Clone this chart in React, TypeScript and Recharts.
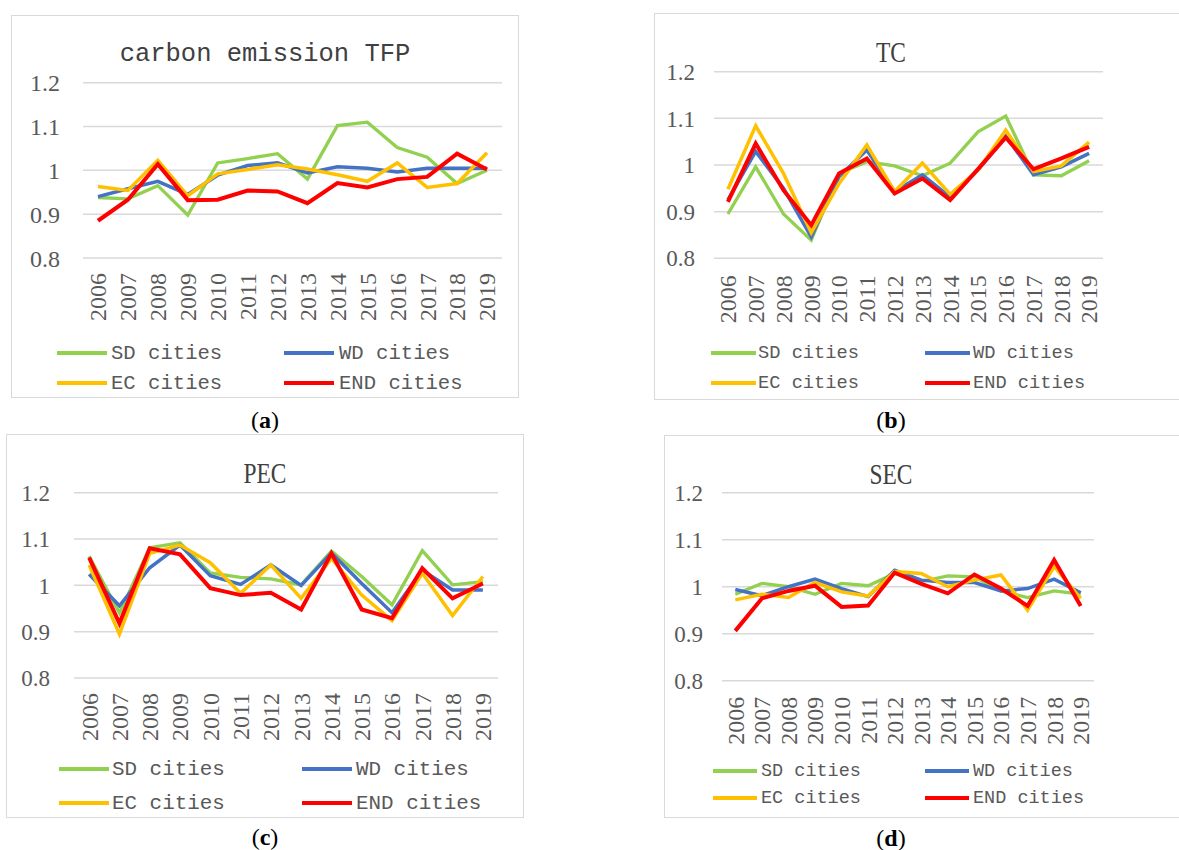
import React from 'react';
import { LineChart, Line, XAxis, YAxis, CartesianGrid } from 'recharts';

const YEARS = ['2006', '2007', '2008', '2009', '2010', '2011', '2012', '2013', '2014', '2015', '2016', '2017', '2018', '2019'];
const SERIES = ['SD cities', 'WD cities', 'EC cities', 'END cities'];
const Y_TICKS = [0.8, 0.9, 1.0, 1.1, 1.2];

// (a) carbon emission TFP
const TFP_SD = [0.938, 0.935, 0.965, 0.898, 1.017, 1.027, 1.038, 0.98, 1.102, 1.11, 1.052, 1.03, 0.97, 1.0];
const TFP_WD = [0.94, 0.958, 0.975, 0.945, 0.989, 1.011, 1.017, 0.994, 1.008, 1.005, 0.996, 1.005, 1.005, 1.005];
const TFP_EC = [0.963, 0.954, 1.023, 0.942, 0.992, 1.002, 1.013, 1.003, 0.99, 0.975, 1.017, 0.961, 0.97, 1.04];
const TFP_END = [0.885, 0.933, 1.014, 0.932, 0.933, 0.954, 0.952, 0.925, 0.971, 0.961, 0.98, 0.985, 1.038, 1.002];

// (b) TC
const TC_SD = [0.895, 0.996, 0.895, 0.839, 0.982, 1.007, 0.998, 0.977, 1.004, 1.071, 1.105, 0.979, 0.977, 1.009];
const TC_WD = [0.925, 1.029, 0.95, 0.846, 0.975, 1.032, 0.943, 0.979, 0.931, 0.989, 1.062, 0.979, 0.996, 1.025];
const TC_EC = [0.948, 1.084, 0.982, 0.855, 0.96, 1.043, 0.943, 1.004, 0.937, 0.989, 1.075, 0.986, 0.998, 1.049];
const TC_END = [0.921, 1.046, 0.946, 0.871, 0.982, 1.014, 0.939, 0.971, 0.925, 0.991, 1.059, 0.991, 1.014, 1.039];

// (c) PEC
const PEC_SD = [1.063, 0.94, 1.081, 1.092, 1.027, 1.017, 1.014, 1.001, 1.074, 1.019, 0.958, 1.075, 1.001, 1.008];
const PEC_WD = [1.024, 0.956, 1.038, 1.087, 1.021, 1.002, 1.044, 1.0, 1.07, 1.004, 0.941, 1.033, 0.99, 0.99];
const PEC_EC = [1.044, 0.895, 1.069, 1.087, 1.049, 0.983, 1.044, 0.972, 1.058, 0.979, 0.924, 1.026, 0.935, 1.019];
const PEC_END = [1.06, 0.918, 1.08, 1.067, 0.994, 0.979, 0.984, 0.948, 1.069, 0.948, 0.929, 1.037, 0.972, 1.004];

// (d) SEC
const SEC_SD = [0.984, 1.007, 1.0, 0.984, 1.007, 1.002, 1.028, 1.011, 1.023, 1.021, 0.991, 0.977, 0.991, 0.984];
const SEC_WD = [0.994, 0.981, 1.0, 1.016, 0.996, 0.979, 1.035, 1.014, 1.009, 1.009, 0.991, 0.996, 1.016, 0.987];
const SEC_EC = [0.972, 0.984, 0.977, 1.009, 0.989, 0.98, 1.032, 1.028, 1.0, 1.014, 1.025, 0.95, 1.043, 0.975];
const SEC_END = [0.906, 0.975, 0.991, 1.002, 0.957, 0.96, 1.03, 1.006, 0.986, 1.026, 0.996, 0.959, 1.057, 0.959];

const COLORS = ['#92D050', '#4472C4', '#FFC000', '#FF0000'];
const WIDTHS = [3.3, 3.5, 3.5, 4];
const KEYS = ['SD', 'WD', 'EC', 'END'];

const MONO = '"Liberation Mono", "DejaVu Sans Mono", monospace';
const SERIF = '"Liberation Serif", "Times New Roman", serif';

function buildRows(sd: number[], wd: number[], ec: number[], end: number[]) {
  return YEARS.map((year, i) => ({ year, SD: sd[i], WD: wd[i], EC: ec[i], END: end[i] }));
}

const PANELS = [
  {
    id: 'a', rows: buildRows(TFP_SD, TFP_WD, TFP_EC, TFP_END),
    box: { x: 11, y: 15, w: 508, h: 383, rightBorder: true },
    plot: { l: 83, r: 502, t: 82.7, b: 258 },
    yGap: 23, yFont: 24, xGap: 15, xFont: 24,
    title: { text: 'carbon emission TFP', x: 265, y: 55, mono: true },
    legend: { rows: [353, 383], sw: [57, 284], tx: [111, 339], len: 50, font: 20.6 },
    caption: { x: 265, y: 420 },
  },
  {
    id: 'b', rows: buildRows(TC_SD, TC_WD, TC_EC, TC_END),
    box: { x: 654, y: 13, w: 540, h: 387, rightBorder: false },
    plot: { l: 714, r: 1103, t: 71.7, b: 258.3 },
    yGap: 19, yFont: 23, xGap: 17, xFont: 24,
    title: { text: 'TC', x: 891, y: 52, mono: false },
    legend: { rows: [353, 383], sw: [711, 925], tx: [758, 973], len: 45, font: 18.7 },
    caption: { x: 891, y: 420 },
  },
  {
    id: 'c', rows: buildRows(PEC_SD, PEC_WD, PEC_EC, PEC_END),
    box: { x: 6, y: 434, w: 518, h: 384, rightBorder: true },
    plot: { l: 74, r: 498, t: 492.7, b: 678 },
    yGap: 24, yFont: 23, xGap: 15, xFont: 24,
    title: { text: 'PEC', x: 265, y: 473, mono: false },
    legend: { rows: [769, 803], sw: [59, 302], tx: [112, 356], len: 50, font: 20.9 },
    caption: { x: 265, y: 837 },
  },
  {
    id: 'd', rows: buildRows(SEC_SD, SEC_WD, SEC_EC, SEC_END),
    box: { x: 664, y: 435, w: 530, h: 383, rightBorder: false },
    plot: { l: 722, r: 1094, t: 492.7, b: 680.7 },
    yGap: 19, yFont: 23, xGap: 16, xFont: 24,
    title: { text: 'SEC', x: 891, y: 474, mono: false },
    legend: { rows: [771, 798], sw: [713, 925], tx: [761, 973], len: 44, font: 18.5 },
    caption: { x: 891, y: 838 },
  },
];

const fmtY = (v: number) => String(Math.round(v * 10) / 10);

function Panel({ p }: { p: any }) {
  const { box, plot } = p;
  const X_H = 70;
  const step = (plot.r - plot.l) / YEARS.length;
  const margin = {
    top: plot.t - box.y,
    left: 0,
    right: box.x + box.w - plot.r,
    bottom: box.h - (plot.b - box.y) - X_H,
  };
  const XTick = (props: any) => {
    const { x, y, payload } = props;
    const ty = y + p.xGap;
    return (
      <text
        x={x}
        y={ty}
        transform={`rotate(-90 ${x} ${ty})`}
        textAnchor="end"
        dy="0.35em"
        fill="#595959"
        fontSize={p.xFont}
        fontFamily={SERIF}
      >
        {payload.value}
      </text>
    );
  };
  return (
    <>
      <div
        style={{
          position: 'absolute',
          left: box.x,
          top: box.y,
          width: box.w,
          height: box.h,
          boxSizing: 'border-box',
          border: '1px solid #D9D9D9',
          borderRight: box.rightBorder ? '1px solid #D9D9D9' : 'none',
        }}
      />
      <div style={{ position: 'absolute', left: box.x, top: box.y }}>
        <LineChart width={box.w} height={box.h} data={p.rows} margin={margin}>
          <CartesianGrid vertical={false} stroke="#D9D9D9" strokeWidth={1.5} />
          <XAxis
            dataKey="year"
            interval={0}
            height={X_H}
            axisLine={false}
            tickLine={false}
            tickSize={0}
            tickMargin={0}
            padding={{ left: step / 2, right: step / 2 }}
            tick={<XTick />}
          />
          <YAxis
            type="number"
            domain={[0.8, 1.2]}
            ticks={Y_TICKS}
            width={plot.l - box.x}
            axisLine={false}
            tickLine={false}
            tickSize={0}
            tickMargin={p.yGap}
            tickFormatter={fmtY}
            tick={{ fill: '#595959', fontSize: p.yFont, fontFamily: SERIF }}
          />
          {KEYS.map((k, i) => (
            <Line
              key={k}
              type="linear"
              dataKey={k}
              name={SERIES[i]}
              stroke={COLORS[i]}
              strokeWidth={WIDTHS[i]}
              dot={false}
              activeDot={false}
              isAnimationActive={false}
            />
          ))}
        </LineChart>
      </div>
      <div
        style={{
          position: 'absolute',
          left: p.title.x - 300,
          top: p.title.y - 20,
          width: 600,
          height: 40,
          lineHeight: '40px',
          textAlign: 'center',
          color: '#404040',
          fontFamily: p.title.mono ? MONO : SERIF,
          fontSize: p.title.mono ? 25.5 : 30,
          transform: p.title.mono ? 'none' : 'scaleX(0.78)',
          whiteSpace: 'pre',
        }}
      >
        {p.title.text}
      </div>
      {SERIES.map((name, i) => {
        const col = i % 2;
        const row = Math.floor(i / 2);
        const cy = p.legend.rows[row];
        return (
          <div
            key={name}
            style={{ position: 'absolute', left: p.legend.sw[col], top: cy - 15, height: 30, display: 'flex', alignItems: 'center' }}
          >
            <div style={{ width: p.legend.len, height: 4.5, background: COLORS[i] }} />
            <div
              style={{
                marginLeft: p.legend.tx[col] - p.legend.sw[col] - p.legend.len,
                fontFamily: MONO,
                fontSize: p.legend.font,
                color: '#595959',
                whiteSpace: 'pre',
              }}
            >
              {name}
            </div>
          </div>
        );
      })}
      <div
        style={{
          position: 'absolute',
          left: p.caption.x - 50,
          top: p.caption.y - 15,
          width: 100,
          height: 30,
          lineHeight: '30px',
          textAlign: 'center',
          fontFamily: SERIF,
          fontSize: 24,
          color: '#000',
        }}
      >
        (<b>{p.id}</b>)
      </div>
    </>
  );
}

export default function App() {
  return (
    <div style={{ position: 'absolute', left: 0, top: 0, width: 1179, height: 850, overflow: 'hidden', background: '#fff' }}>
      {PANELS.map((p) => (
        <Panel key={p.id} p={p} />
      ))}
    </div>
  );
}
